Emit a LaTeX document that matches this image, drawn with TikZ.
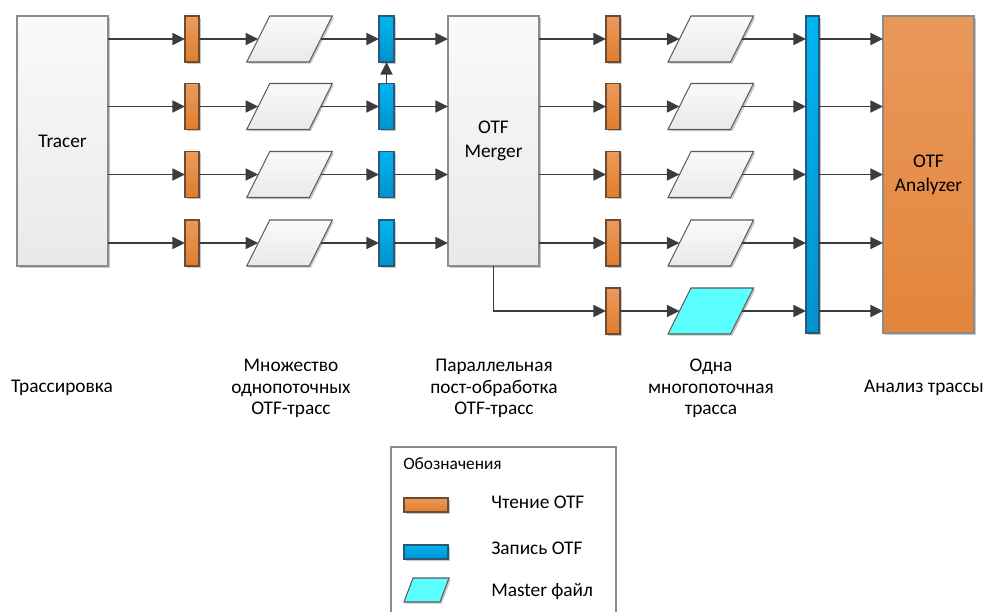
\documentclass[tikz,border=0pt]{standalone}
\usepackage{fontspec}
\setmainfont{Carlito}
\usetikzlibrary{arrows.meta,shadows}

\definecolor{grayTop}{HTML}{FAFAFA}
\definecolor{grayBot}{HTML}{E9E9E9}
\definecolor{boxLine}{HTML}{8C8C8C}
\definecolor{fileLine}{HTML}{5A5A5A}
\definecolor{readTop}{HTML}{EA9B5F}
\definecolor{readBot}{HTML}{E07D2B}
\definecolor{readLine}{HTML}{6E4C33}
\definecolor{writeTop}{HTML}{00B4F2}
\definecolor{writeBot}{HTML}{0092CC}
\definecolor{writeLine}{HTML}{2C5878}
\definecolor{anTop}{HTML}{E9985C}
\definecolor{anBot}{HTML}{E3853A}
\definecolor{masterFill}{HTML}{5CFFFF}
\definecolor{arrowGray}{HTML}{3C3C3C}

\begin{document}
\begin{tikzpicture}[x=0.75pt,y=-0.75pt,
  base/.style={inner sep=0pt, outer sep=0pt, line width=0.8pt},
  shade/.style={drop shadow={shadow xshift=1.3pt, shadow yshift=-1.3pt, opacity=0.22, fill=black}},
  bigbox/.style={base, shade, draw=boxLine, top color=grayTop, bottom color=grayBot,
    minimum width=68.25pt, minimum height=187.5pt, align=center,
    font=\fontsize{14.5}{16.2}\selectfont},
  readbox/.style={base, shade, draw=readLine, top color=readTop, bottom color=readBot,
    minimum width=10.5pt, minimum height=34.5pt},
  writebox/.style={base, shade, draw=writeLine, top color=writeTop, bottom color=writeBot,
    minimum width=11.25pt, minimum height=34.5pt},
  tracefile/.style={base, shade, draw=fileLine, top color=grayTop, bottom color=grayBot,
    minimum width=46.9pt, minimum height=34.5pt, xslant=0.5},
  masterfile/.style={tracefile, top color=masterFill, bottom color=masterFill},
  arr/.style={draw=arrowGray, line width=1.3pt, -{Triangle[length=9.5pt,width=9pt]}},
  caption/.style={align=center, font=\fontsize{14.5}{16.2}\selectfont, inner sep=0pt},
  legendtext/.style={anchor=west, font=\fontsize{14.5}{16.2}\selectfont, inner sep=0pt}
]
\useasboundingbox (0,0) rectangle (986,612);

% main blocks
\node[bigbox] (tracer) at (62.5,141) {Tracer};
\node[bigbox] (merger) at (493.5,141) {OTF\\[1.5pt]Merger};
\node[bigbox, draw=boxLine, top color=anTop, bottom color=anBot,
      minimum height=237.75pt] (analyzer) at (928.5,174.5) {OTF\\[1.5pt]Analyzer};
\node[writebox, minimum width=9.75pt, minimum height=237.75pt] (bar) at (812.5,174.5) {};

% single-threaded traces: read, file, write
\foreach \r/\y in {1/39,2/106.5,3/174.5,4/243}{
  \node[readbox]  (ra\r) at (192,\y) {};
  \node[tracefile] (fa\r) at (289.5,\y) {};
  \node[writebox] (wa\r) at (386.5,\y) {};
  \node[readbox]  (rb\r) at (613,\y) {};
  \node[tracefile] (fb\r) at (710.75,\y) {};
}
\node[readbox] (rb5) at (613,311) {};
\node[masterfile] (fb5) at (710.75,311) {};

% connectors, first stage
\foreach \r in {1,2,3,4}{
  \draw[arr] (tracer.east |- ra\r) -- (ra\r.west);
  \draw[arr] (ra\r.east) -- (fa\r.west);
  \draw[arr] (fa\r.east) -- (wa\r.west);
  \draw[arr] (wa\r.east) -- (merger.west |- wa\r);
  \draw[arr] (merger.east |- rb\r) -- (rb\r.west);
}
\draw[arr] (wa2.north) -- (wa1.south);
\draw[arr] (merger.south) |- (rb5.west);

% connectors, second stage
\foreach \r in {1,2,3,4,5}{
  \draw[arr] (rb\r.east) -- (fb\r.west);
  \draw[arr] (fb\r.east) -- (bar.west |- fb\r);
  \draw[arr] (bar.east |- fb\r) -- (analyzer.west |- fb\r);
}

% stage captions
\node[caption] (c1) at (62,388) {Трассировка};
\node[caption] (c2) at (291,388.5) {Множество\\однопоточных\\OTF-трасс};
\node[caption] (c3) at (494,388.5) {Параллельная\\пост-обработка\\OTF-трасс};
\node[caption] (c4) at (711,388.5) {Одна\\многопоточная\\трасса};
\node[caption] (c5) at (924,388) {Анализ трассы};

% legend
\draw[draw=boxLine, line width=0.8pt] (391,612) |- (616,447) -- (616,612);
\node[anchor=west, inner sep=0pt, font=\fontsize{13}{15}\selectfont] (ltitle) at (403,464) {Обозначения};
\node[readbox, minimum width=33pt, minimum height=10.5pt] (lread) at (426,505) {};
\node[legendtext] (lreadt) at (491,502) {Чтение OTF};
\node[writebox, minimum width=33pt, minimum height=10.5pt] (lwrite) at (426,552) {};
\node[legendtext] (lwritet) at (491,548) {Запись OTF};
\node[masterfile, minimum width=27pt, minimum height=18pt, xslant=-0.125] (lmaster) at (426.5,590) {};
\node[legendtext] (lmastert) at (491,592) {Master файл};
\end{tikzpicture}
\end{document}
